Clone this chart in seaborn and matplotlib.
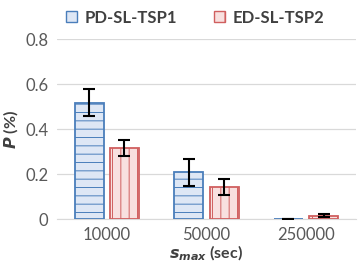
import matplotlib
matplotlib.use("Agg")
import matplotlib.pyplot as plt
import seaborn as sns
import pandas as pd
from matplotlib.patches import Patch

# values
s_max = ["10000", "50000", "250000"]
methods = ["PD-SL-TSP1", "ED-SL-TSP2"]
pd_vals = [0.516, 0.209, 0.001]
ed_vals = [0.316, 0.142, 0.015]
pd_err = [0.060, 0.060, 0.0]
ed_err = [0.036, 0.035, 0.006]
yticks = [0, 0.2, 0.4, 0.6, 0.8]
ytick_labels = ["0", "0.2", "0.4", "0.6", "0.8"]

faces = ["#dee7f5", "#f8e0df"]
edges = ["#4a7ebb", "#d05f5f"]
hatch_cols = ["#7fa3d3", "#e08f8f"]
hatches = ["--", "||"]
txt = "#595959"

sns.set_style("white")
plt.rcParams["font.family"] = ["Lato", "DejaVu Sans"]
plt.rcParams["hatch.linewidth"] = 0.7

df = pd.DataFrame({
    "s_max": s_max * 2,
    "method": [methods[0]] * 3 + [methods[1]] * 3,
    "P": pd_vals + ed_vals,
    "err": pd_err + ed_err,
})

fig = plt.figure(figsize=(3.58, 2.62), dpi=100)
ax = fig.add_axes([0.159, 0.164, 0.835, 0.687])
sns.barplot(data=df, x="s_max", y="P", hue="method", hue_order=methods,
            order=s_max, width=0.71, gap=0.18, errorbar=None, legend=False,
            ax=ax, zorder=3)

has_hc = hasattr(Patch, "set_hatchcolor")
bar_groups = list(ax.containers)[:2]
for i, cont in enumerate(bar_groups):
    sub = df[df["method"] == methods[i]]
    xs, ys = [], []
    for bar in cont:
        bar.set_facecolor(faces[i])
        bar.set_edgecolor(edges[i])
        bar.set_linewidth(1.3)
        bar.set_hatch(hatches[i])
        if has_hc:
            bar.set_hatchcolor(hatch_cols[i])
        xs.append(bar.get_x() + bar.get_width() / 2)
        ys.append(bar.get_height())
    ax.errorbar(xs, ys, yerr=sub["err"].values, fmt="none", ecolor="black",
                elinewidth=1.5, capsize=4, capthick=1.5, zorder=4)

ax.set_ylim(0, 0.8)
ax.set_xlim(-0.5, 2.5)
ax.set_yticks(yticks)
ax.set_yticklabels(ytick_labels)
ax.yaxis.grid(True, color="#d9d9d9", linewidth=0.9, zorder=0)
ax.tick_params(axis="both", length=0, labelsize=12, labelcolor=txt, pad=6)
for s in ["top", "right", "left"]:
    ax.spines[s].set_visible(False)
ax.spines["bottom"].set_color("#d9d9d9")

ax.set_ylabel(r"$\mathbfit{P}$ (%)", fontsize=11.5, fontweight="bold",
              color="#404040", labelpad=4)
ax.set_xlabel(r"$\mathbfit{s}_{\mathbfit{max}}$ (sec)", fontsize=11.5,
              fontweight="bold", color="#404040", labelpad=0)

handles = [Patch(facecolor=faces[i], edgecolor=edges[i], hatch=hatches[i][0],
                 label=methods[i]) for i in range(2)]
leg = fig.legend(handles=handles, loc="upper center", ncol=2,
                 bbox_to_anchor=(0.545, 1.02), frameon=False,
                 prop={"weight": "bold", "size": 12}, handlelength=0.65,
                 handleheight=0.65, columnspacing=2.2, handletextpad=0.45)
for t in leg.get_texts():
    t.set_color("#404040")

fig.savefig("out.png", dpi=100)
